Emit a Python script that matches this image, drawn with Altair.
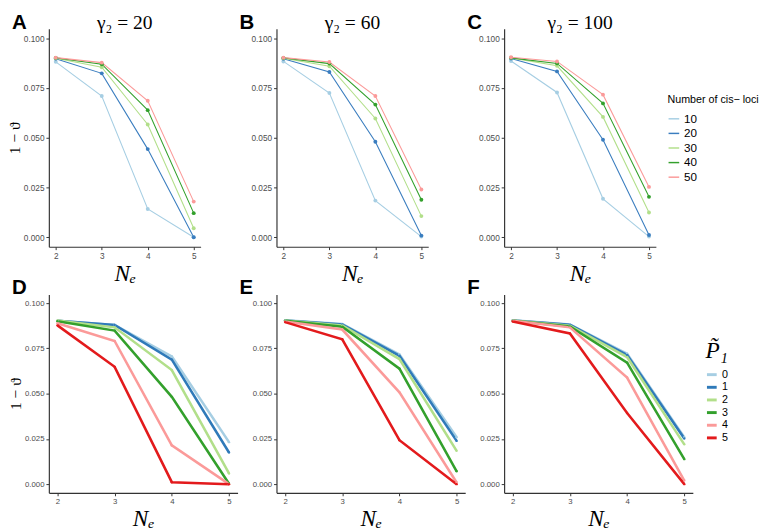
import altair as alt
import pandas as pd

ne = [2, 3, 4, 5]

cis_loci = ["10", "20", "30", "40", "50"]
cis_colors = ["#a6cee3", "#3a7dbf", "#b2df8a", "#33a02c", "#fb9a99"]

p1_levels = ["0", "1", "2", "3", "4", "5"]
p1_colors = ["#a6cee3", "#2f7ab9", "#b2df8a", "#33a02c", "#fb9a99", "#e31a1c"]

y_ticks = [0.0, 0.025, 0.05, 0.075, 0.1]

# 1 - theta against N_e, one list per number of cis-loci (top row)
gamma_20 = {
    "10": [0.0882, 0.0710, 0.0142, 0.0000],
    "20": [0.0897, 0.0824, 0.0443, 0.0000],
    "30": [0.0900, 0.0855, 0.0567, 0.0045],
    "40": [0.0902, 0.0870, 0.0639, 0.0121],
    "50": [0.0903, 0.0878, 0.0686, 0.0179],
}
gamma_60 = {
    "10": [0.0884, 0.0725, 0.0184, 0.0003],
    "20": [0.0897, 0.0831, 0.0480, 0.0008],
    "30": [0.0900, 0.0860, 0.0597, 0.0106],
    "40": [0.0902, 0.0873, 0.0667, 0.0188],
    "50": [0.0903, 0.0881, 0.0710, 0.0240],
}
gamma_100 = {
    "10": [0.0886, 0.0728, 0.0193, 0.0003],
    "20": [0.0899, 0.0834, 0.0490, 0.0011],
    "30": [0.0902, 0.0862, 0.0605, 0.0124],
    "40": [0.0902, 0.0874, 0.0673, 0.0203],
    "50": [0.0905, 0.0884, 0.0717, 0.0253],
}

# 1 - theta against N_e, one list per P1 level (bottom row)
p1_d = {
    "0": [0.0902, 0.0879, 0.0705, 0.0232],
    "1": [0.0902, 0.0879, 0.0688, 0.0175],
    "2": [0.0904, 0.0866, 0.0630, 0.0059],
    "3": [0.0900, 0.0848, 0.0482, 0.0002],
    "4": [0.0889, 0.0791, 0.0214, 0.0000],
    "5": [0.0877, 0.0648, 0.0011, 0.0000],
}
p1_e = {
    "0": [0.0905, 0.0884, 0.0716, 0.0259],
    "1": [0.0904, 0.0882, 0.0709, 0.0239],
    "2": [0.0904, 0.0877, 0.0691, 0.0184],
    "3": [0.0902, 0.0870, 0.0638, 0.0071],
    "4": [0.0898, 0.0854, 0.0507, 0.0009],
    "5": [0.0895, 0.0800, 0.0243, 0.0000],
}
p1_f = {
    "0": [0.0905, 0.0882, 0.0720, 0.0259],
    "1": [0.0904, 0.0880, 0.0714, 0.0252],
    "2": [0.0904, 0.0875, 0.0702, 0.0220],
    "3": [0.0902, 0.0871, 0.0671, 0.0138],
    "4": [0.0902, 0.0866, 0.0589, 0.0020],
    "5": [0.0898, 0.0832, 0.0393, 0.0000],
}

SERIF = "Liberation Serif"
SANS = "Liberation Sans"


def note(text, **style):
    return alt.Chart(pd.DataFrame({"t": [text]})).mark_text(**style).encode(text="t:N")


def panel(series, domain, colors, letter, width, height, title=None,
          y_title=None, legend=None, thick=False, label_size=8.5):
    df = pd.DataFrame(
        [{"ne": n, "val": v, "grp": k} for k, vals in series.items() for n, v in zip(ne, vals)]
    )
    x = alt.X("ne:Q").scale(domain=[1.85, 5.15], nice=False, zero=False).axis(
        values=ne, format="d", title="Nₑ", titleFont=SERIF, titleFontStyle="italic",
        titleFontSize=24, titleFontWeight="normal", titleColor="black", titlePadding=2,
        labelFontSize=label_size,
    )
    y_axis = dict(values=y_ticks, format=".3f", labelFontSize=label_size)
    if y_title:
        y_axis.update(title=y_title, titleFont=SERIF, titleFontSize=16,
                      titleFontWeight="normal", titleColor="black", titlePadding=1)
    else:
        y_axis.update(title=None)
    y = alt.Y("val:Q").scale(domain=[-0.0048, 0.1048], nice=False, zero=False).axis(**y_axis)
    color = alt.Color("grp:N").scale(domain=domain, range=colors)
    color = color.legend(legend) if legend is not None else color.legend(None)

    base = alt.Chart(df).encode(x=x, y=y, color=color)
    if thick:
        lines = base.mark_line(strokeWidth=2.6)
        pts = base.mark_point(filled=True, size=6, opacity=1)
    else:
        lines = base.mark_line(strokeWidth=1.1)
        pts = base.mark_point(filled=True, size=16, opacity=1)

    tag = note(letter, align="left", baseline="middle", font=SANS, fontSize=21,
               fontWeight="bold", color="black").encode(x=alt.value(-38), y=alt.value(-6))
    layers = [lines, pts, tag]
    if title:
        layers.append(
            note(title, align="center", baseline="middle", font=SERIF, fontSize=20,
                 color="black").encode(x=alt.value(width / 2), y=alt.value(-6))
        )
    return alt.layer(*layers).properties(width=width, height=height)


top_legend = alt.Legend(
    title="Number of cis− loci", orient="none", legendX=168, legendY=67,
    titleFont=SANS, titleFontSize=11, titleFontWeight="normal", titleColor="black",
    labelFont=SANS, labelFontSize=12, labelColor="black", symbolType="stroke",
    symbolStrokeWidth=1.5, symbolSize=120, rowPadding=2, titlePadding=8,
)
bottom_legend = alt.Legend(
    title="P̃₁", orient="none", legendX=207, legendY=46,
    titleFont=SERIF, titleFontSize=24, titleFontStyle="italic", titleFontWeight="normal",
    titleColor="black", labelFont=SANS, labelFontSize=11, labelColor="black",
    symbolType="stroke", symbolStrokeWidth=3, symbolSize=100, rowPadding=0, titlePadding=6,
)

row_top = alt.hconcat(
    panel(gamma_20, cis_loci, cis_colors, "A", 156, 224, title="γ₂ = 20", y_title="1 − ϑ"),
    panel(gamma_60, cis_loci, cis_colors, "B", 156, 224, title="γ₂ = 60"),
    panel(gamma_100, cis_loci, cis_colors, "C", 156, 224, title="γ₂ = 100", legend=top_legend),
    spacing=78,
    bounds="flush",
).resolve_scale(color="independent")

row_bottom = alt.hconcat(
    panel(p1_d, p1_levels, p1_colors, "D", 194, 204, y_title="1 − ϑ", thick=True, label_size=8),
    panel(p1_e, p1_levels, p1_colors, "E", 194, 204, thick=True, label_size=8),
    panel(p1_f, p1_levels, p1_colors, "F", 194, 204, legend=bottom_legend, thick=True,
          label_size=8),
    spacing=40,
    bounds="flush",
).resolve_scale(color="independent")

chart = (
    alt.vconcat(row_top, row_bottom, spacing=-8)
    .resolve_scale(color="independent")
    .properties(padding={"left": -2, "top": -3, "right": 0, "bottom": 0}, background="white")
    .configure_view(stroke=None)
    .configure_axis(
        grid=False, domainColor="#333333", domainWidth=1.2, tickColor="#333333",
        tickSize=3, labelColor="#4d4d4d", labelFont=SANS, labelPadding=2,
    )
)

chart.save("out.html", embed_options={"renderer": "svg", "actions": False})
